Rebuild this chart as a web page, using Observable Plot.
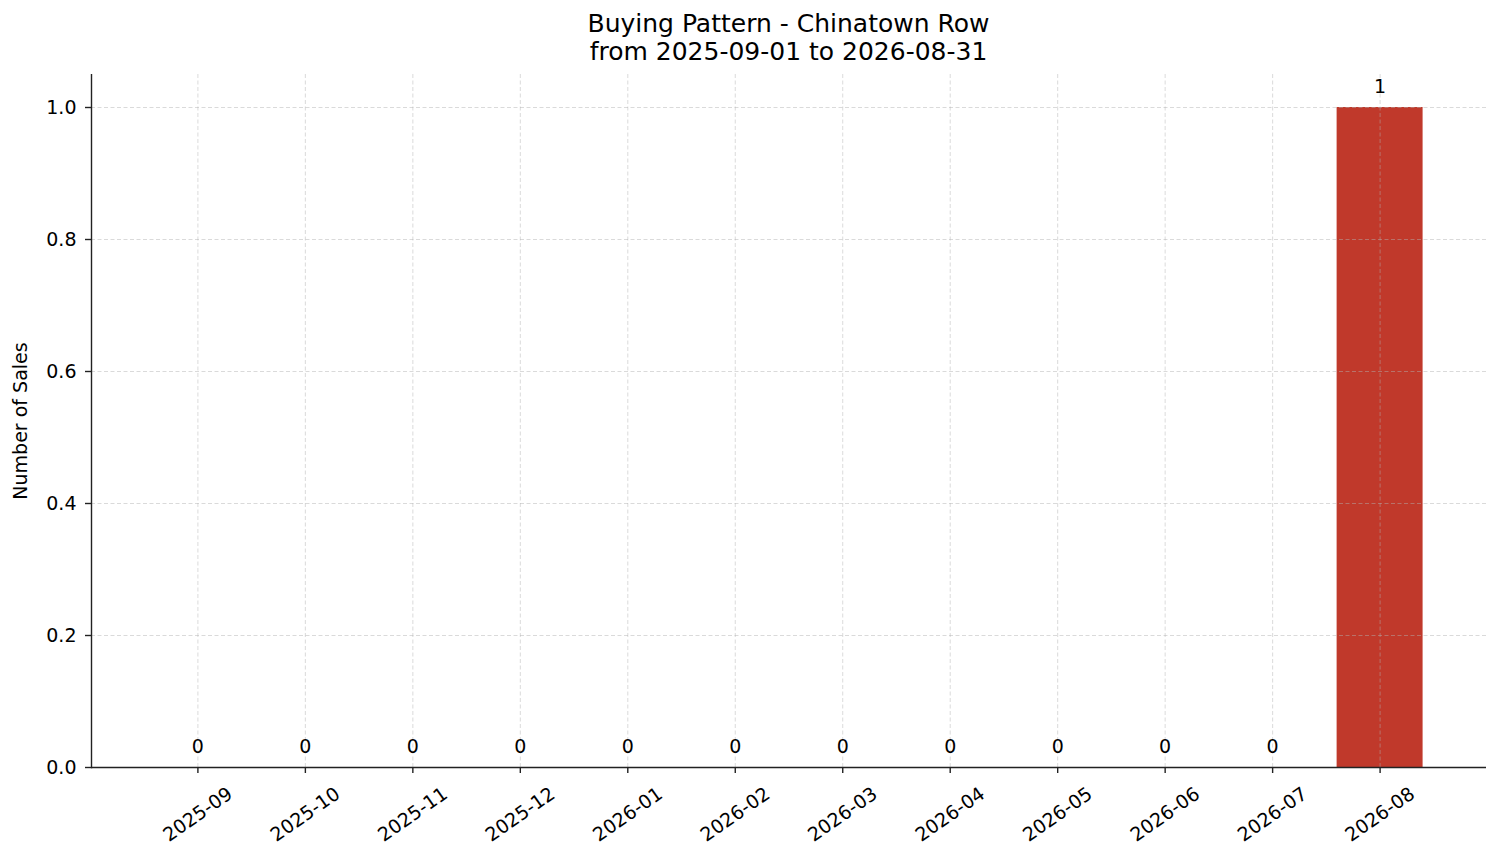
<!DOCTYPE html>
<html>
<head>
<meta charset="utf-8">
<script src="https://cdn.jsdelivr.net/npm/d3@7"></script>
<script src="https://cdn.jsdelivr.net/npm/@observablehq/plot@0.6"></script>
<style>
  body { margin: 0; background: #fff; font-family: "DejaVu Sans", sans-serif; }
  #title { position: relative; width: 1395px; margin-left: 91px; height: 74px; text-align: center;
           font-size: 25px; line-height: 28px; color: #000; padding-top: 10px; box-sizing: border-box; }
</style>
</head>
<body>
<div id="title"><div>Buying Pattern - Chinatown Row</div><div>from 2025-09-01 to 2026-08-31</div></div>
<div id="chart"></div>
<script>
const months = ["2025-09","2025-10","2025-11","2025-12","2026-01","2026-02","2026-03","2026-04","2026-05","2026-06","2026-07","2026-08"];
const sales = [0,0,0,0,0,0,0,0,0,0,0,1];
const yTicks = [0, 0.2, 0.4, 0.6, 0.8, 1.0];

const data = months.map((m, i) => ({month: m, sales: sales[i]}));

const grid = {stroke: "#b0b0b0", strokeOpacity: 0.6, strokeWidth: 0.8, strokeDasharray: "4,2.5"};
const fs = 19;

const chart = Plot.plot({
  width: 1501,
  height: 789,
  marginLeft: 91,
  marginRight: 15,
  marginTop: 0,
  marginBottom: 96,
  style: {fontFamily: "DejaVu Sans, sans-serif", fontSize: "20.8px", color: "#000", background: "#fff"},
  x: {domain: months, paddingInner: 0.2, paddingOuter: 0.59, round: false},
  y: {domain: [0, 1.05]},
  marks: [
    Plot.barY(data, {x: "month", y: "sales", fill: "#c0392b"}),
    Plot.gridX(months, {...grid}),
    Plot.gridY(yTicks, {...grid}),
    Plot.ruleY([0], {stroke: "#222", strokeWidth: 1.4}),
    Plot.frame({anchor: "left", stroke: "#222", strokeWidth: 1.4}),
    Plot.axisY(yTicks, {tickFormat: d3.format(".1f"), tickSize: 6, tickPadding: 9, strokeWidth: 1.4, stroke: "#222",
      fontSize: fs, fill: "#000",
      label: "Number of Sales", labelAnchor: "center", labelArrow: "none", labelOffset: 78}),
    Plot.axisX(months, {tickSize: 6, tickFormat: () => "", strokeWidth: 1.4, stroke: "#222", label: null}),
    Plot.text(months, {x: d => d, frameAnchor: "bottom", dy: 47, rotate: -35, textAnchor: "middle",
      lineAnchor: "middle", fontSize: fs, fill: "#000"}),
    Plot.text(data, {x: "month", y: "sales", text: d => String(d.sales), lineAnchor: "bottom", dy: -15,
      fontSize: fs, fill: "#000"})
  ]
});
document.getElementById("chart").appendChild(chart);
</script>
</body>
</html>
